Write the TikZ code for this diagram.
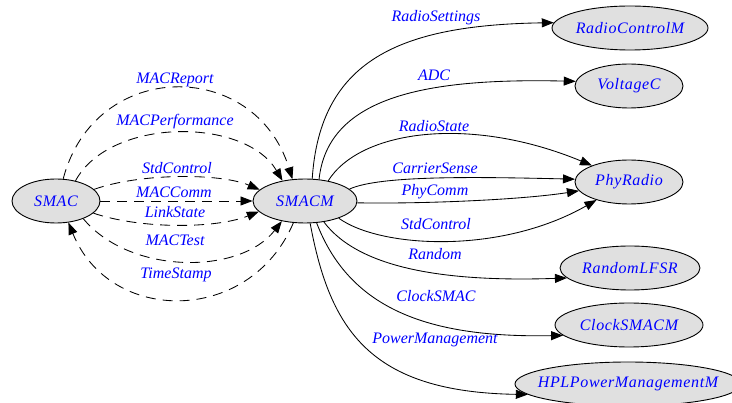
\documentclass[tikz,border=0pt]{standalone}
\usepackage{fontspec}
\setmainfont{Liberation Serif}
\usetikzlibrary{arrows.meta,shapes.geometric}
\definecolor{nodefill}{RGB}{224,224,224}
\begin{document}
\begin{tikzpicture}[x=1pt,y=-1pt,
  lbl/.style={text=blue,font=\fontsize{16}{16}\selectfont\itshape,inner sep=0pt},
  comp/.style={ellipse,draw,line width=0.9pt,fill=nodefill,text=blue,
    font=\fontsize{16}{16}\selectfont\itshape\addfontfeature{LetterSpace=4},
    inner sep=0pt,minimum height=44pt},
  wire/.style={draw,line width=0.85pt,-{Triangle[length=12pt,width=9pt]}},
  dwire/.style={wire,dash pattern=on 10pt off 7pt}]
\clip (0,0) rectangle (732,403);
\fill[white] (0,0) rectangle (732,403);

% components
\node[comp,minimum width=88pt]  (smac)  at (56,201)  {\makebox[0pt]{SMAC}};
\node[comp,minimum width=104pt] (smacm) at (305,201) {\makebox[0pt]{SMACM}};
\node[comp,minimum width=156pt] (rcm)   at (630,28)  {\makebox[0pt]{RadioControlM}};
\node[comp,minimum width=108pt] (volt)  at (629,86)  {\makebox[0pt]{VoltageC}};
\node[comp,minimum width=108pt] (phy)   at (629,182) {\makebox[0pt]{PhyRadio}};
\node[comp,minimum width=140pt] (rnd)   at (630,268) {\makebox[0pt]{RandomLFSR}};
\node[comp,minimum width=148pt] (clk)   at (629,325) {\makebox[0pt]{ClockSMACM}};
\node[comp,minimum width=226pt] (hpl)   at (628,384) {\makebox[0pt]{HPLPowerManagementM}};

% dashed interfaces between SMAC and SMACM
\draw[dwire] (smac.72) .. controls (95,58) and (255,58) .. (smacm.120);
\draw[dwire] (smac.46) .. controls (110,117) and (245,117) .. (smacm.138);
\draw[dwire] (smac.17) .. controls (140,173) and (220,173) .. (smacm.166);
\draw[dwire] (smac.east) -- (smacm.west);
\draw[dwire] (smac.-18) .. controls (140,229) and (215,229) .. (smacm.193);
\draw[dwire] (smac.-33) .. controls (130,275) and (240,275) .. (smacm.221);
\draw[dwire] (smacm.242) .. controls (250,325) and (110,325) .. (smac.-60);

% interfaces used by SMACM
\draw[wire] (smacm.72)  .. controls (320,60) and (400,25) .. (rcm.176);
\draw[wire] (smacm.57)  .. controls (328,95) and (430,78) .. (volt.175);
\draw[wire] (smacm.41)  .. controls (360,130) and (470,115) .. (phy.156);
\draw[wire] (smacm.15)  .. controls (380,175) and (480,177) .. (phy.177);
\draw[wire] (smacm.-2)  .. controls (420,204) and (520,200) .. (phy.190);
\draw[wire] (smacm.-27) .. controls (380,248) and (500,255) .. (phy.209);
\draw[wire] (smacm.-48) .. controls (360,270) and (450,282) .. (rnd.189);
\draw[wire] (smacm.-62) .. controls (350,310) and (430,338) .. (clk.189);
\draw[wire] (smacm.-77) .. controls (330,330) and (370,392) .. (hpl.186);

% interface labels
\node[lbl] (lrep)  at (175,80)  {MACReport};
\node[lbl] (lperf) at (175,122) {MACPerformance};
\node[lbl] (lstd1) at (177,168) {StdControl};
\node[lbl] (lcomm) at (174,192) {MACComm};
\node[lbl] (llink) at (175,212) {LinkState};
\node[lbl] (ltest) at (175,240) {MACTest};
\node[lbl] (ltime) at (176,275) {TimeStamp};
\node[lbl] (lrset) at (436,18)  {RadioSettings};
\node[lbl] (ladc)  at (434,75)  {ADC};
\node[lbl] (lrst)  at (434,126) {RadioState};
\node[lbl] (lcs)   at (435,168) {CarrierSense};
\node[lbl] (lpc)   at (435,192) {PhyComm};
\node[lbl] (lstd2) at (436,224) {StdControl};
\node[lbl] (lrnd)  at (435,254) {Random};
\node[lbl] (lclk)  at (436,296) {ClockSMAC};
\node[lbl] (lpm)   at (435,340) {PowerManagement};
\end{tikzpicture}
\end{document}
